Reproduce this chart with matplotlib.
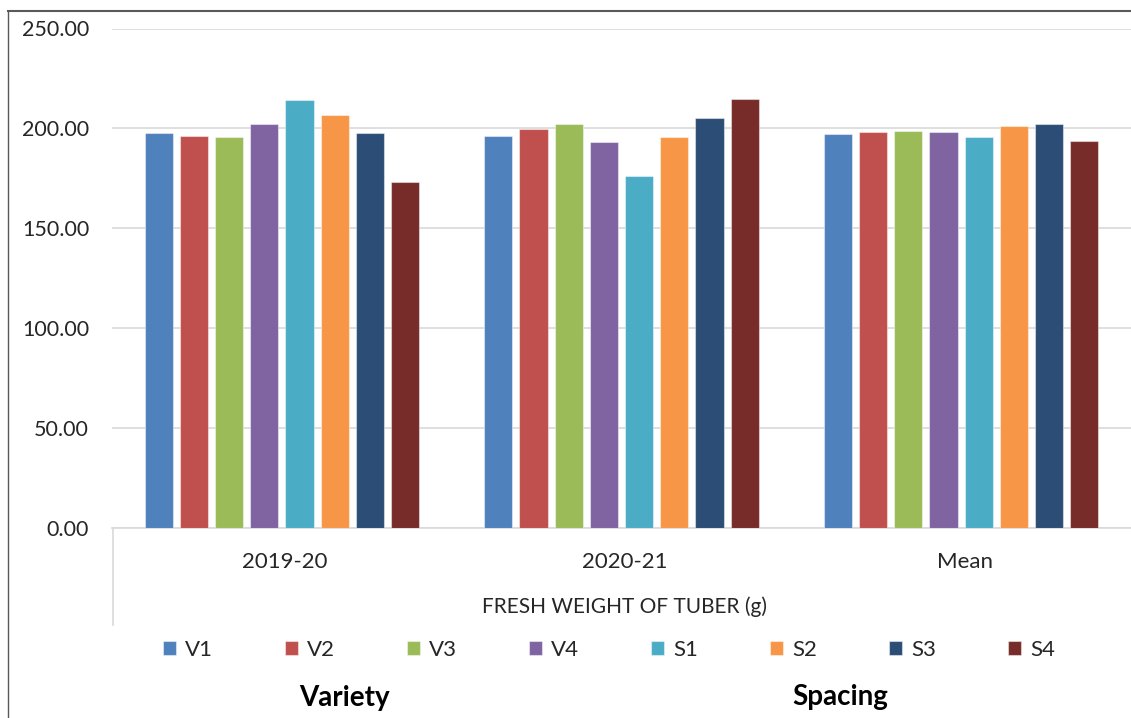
import matplotlib
matplotlib.use('Agg')
import matplotlib.pyplot as plt
from matplotlib.lines import Line2D
from matplotlib.transforms import blended_transform_factory
import numpy as np

plt.rcParams['font.family'] = ['Lato', 'DejaVu Sans']

# fresh weight of tuber (g) per treatment
categories = ['2019-20', '2020-21', 'Mean']
treatments = ['V1', 'V2', 'V3', 'V4', 'S1', 'S2', 'S3', 'S4']
values = {
    'V1': [197.8, 196.3, 197.3],
    'V2': [196.3, 199.5, 198.0],
    'V3': [195.5, 202.0, 198.7],
    'V4': [202.0, 193.2, 198.0],
    'S1': [214.0, 176.2, 195.5],
    'S2': [206.8, 195.5, 201.2],
    'S3': [197.8, 205.2, 202.0],
    'S4': [173.3, 214.7, 193.8],
}
colors = ['#4F81BD', '#C0504D', '#9BBB59', '#8064A2',
          '#4BACC6', '#F79646', '#2C4D75', '#772C2A']
yticks = [0, 50, 100, 150, 200, 250]

W, H = 1131, 718
fig = plt.figure(figsize=(W / 100, H / 100), dpi=100)
ax = fig.add_axes([112 / W, 1 - 528 / H, 1 - 112 / W, (528 - 28.5) / H])

x = np.arange(len(categories))
slot = 0.1036
bw = 0.083
handles = []
for i, (t, c) in enumerate(zip(treatments, colors)):
    off = (i - 3.5) * slot
    b = ax.bar(x + off, values[t], width=bw, color=c,
               edgecolor=(1, 1, 1, 0.45), linewidth=0.8, zorder=3, label=t)
    handles.append(b)

txt = '#262626'
ax.set_xlim(-0.5, 2.5)
ax.set_ylim(0, 250)
ax.set_yticks(yticks)
ax.set_yticklabels(['%.2f' % v for v in yticks], fontsize=15.5, color=txt)
ax.tick_params(axis='y', length=0, pad=16.5)
ax.tick_params(axis='x', length=0, labelbottom=False)
ax.grid(axis='y', color='#D9D9D9', linewidth=1.2, zorder=0)
for s in ['top', 'right', 'left']:
    ax.spines[s].set_visible(False)
ax.spines['bottom'].set_color('#D9D9D9')
ax.spines['bottom'].set_linewidth(1.2)

# category labels under the axis
tr = blended_transform_factory(ax.transData, fig.transFigure)
for xi, lab in zip(x, categories):
    ax.text(xi + 0.01, 1 - 562 / H, lab, transform=tr, ha='center',
            va='center', fontsize=16, color=txt)

# left edge of the category axis box
fig.add_artist(Line2D([112.5 / W, 112.5 / W], [1 - 528 / H, 1 - 625 / H],
                      color='#D9D9D9', linewidth=1.2))

fig.text(625 / W, 1 - 607 / H, 'FRESH WEIGHT OF TUBER (g)', ha='center',
         va='center', fontsize=15, color=txt)

fig.legend(handles=handles, labels=treatments, loc='center',
           bbox_to_anchor=(609 / W, 1 - 650 / H), ncol=8, frameon=False,
           fontsize=16, handlelength=0.6, handleheight=0.6,
           handletextpad=0.4, columnspacing=3.23, labelcolor=txt)

fig.text(344 / W, 1 - 698 / H, 'Variety', ha='center', va='center',
         fontsize=20, fontweight='bold', color='#000000')
fig.text(840 / W, 1 - 697 / H, 'Spacing', ha='center', va='center',
         fontsize=20, fontweight='bold', color='#000000')

# outer frame
fig.add_artist(Line2D([8 / W, 1.0], [1 - 11 / H, 1 - 11 / H],
                      color='#595959', linewidth=1.5))
fig.add_artist(Line2D([8 / W, 8 / W], [1 - 11 / H, 0],
                      color='#595959', linewidth=1.0))

fig.savefig('out.png', dpi=100)
